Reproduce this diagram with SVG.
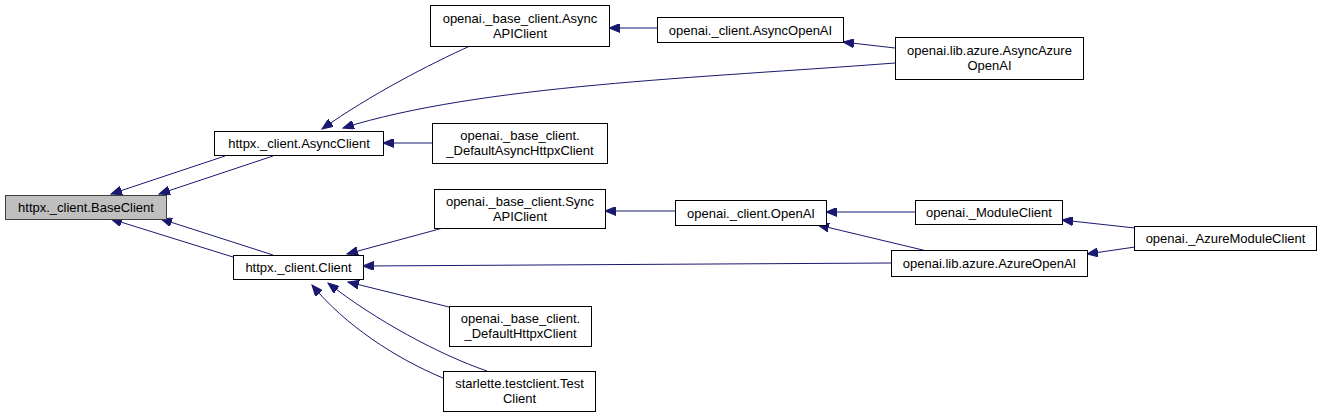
<svg xmlns="http://www.w3.org/2000/svg" width="1321" height="417" viewBox="0 0 1321 417">
<style>
.n rect{fill:#ffffff;stroke:#000000;stroke-width:1}
.n text{font-family:"Liberation Sans",Arial,sans-serif;font-size:13px;fill:#000000;text-anchor:middle}
#baseclient rect{fill:#bfbfbf;stroke:#404040}
.e path{fill:none;stroke:#191970;stroke-width:1;marker-end:url(#arr)}
</style>
<defs>
<marker id="arr" markerUnits="userSpaceOnUse" markerWidth="12" markerHeight="9" refX="11" refY="4.5" orient="auto">
<path d="M0,0 L11,4.5 L0,9 z" fill="#191970" stroke="#191970"/>
</marker>
</defs>
<rect width="1321" height="417" fill="#ffffff"/>
<g id="edges" class="e">
<path d="M225,156 L111,194"/>
<path d="M273,156 L159,194"/>
<path d="M233,257 L111,219"/>
<path d="M273,255 L161,219"/>
<path d="M470,46 C430,64 370,95 322,129"/>
<path d="M895,63 C700,78 480,85 343,128"/>
<path d="M432,143 L383,143"/>
<path d="M657,28 L609,28"/>
<path d="M895,48 L843,42"/>
<path d="M443,228 L347,254"/>
<path d="M675,211 L605,211"/>
<path d="M915,212 L826,212"/>
<path d="M927,251 L818,225"/>
<path d="M1135,228 L1062,220"/>
<path d="M1135,247 L1087,254"/>
<path d="M891,263 L363,266"/>
<path d="M449,307 L348,282"/>
<path d="M443,378 C395,358 345,325 312,285"/>
<path d="M487,371 C440,355 375,320 328,283"/>
</g>
<g id="baseclient" class="n"><rect x="5.5" y="195.5" width="161" height="24"/><text x="86" y="212">httpx._client.BaseClient</text></g>
<g id="asyncclient" class="n"><rect x="214.5" y="131.5" width="169" height="24"/><text x="299" y="148">httpx._client.AsyncClient</text></g>
<g id="client" class="n"><rect x="233.5" y="255.5" width="130" height="24"/><text x="298.5" y="272">httpx._client.Client</text></g>
<g id="asyncapiclient" class="n"><rect x="430.5" y="5.5" width="179" height="41"/><text x="520" y="22.5">openai._base_client.Async</text><text x="520" y="37.5">APIClient</text></g>
<g id="defaultasynchttpxclient" class="n"><rect x="432.5" y="123.5" width="175" height="40"/><text x="520" y="140">openai._base_client.</text><text x="520" y="155">_DefaultAsyncHttpxClient</text></g>
<g id="asyncopenai" class="n"><rect x="657.5" y="17.5" width="186" height="25"/><text x="750.5" y="34.5">openai._client.AsyncOpenAI</text></g>
<g id="asyncazureopenai" class="n"><rect x="895.5" y="37.5" width="188" height="42"/><text x="989.5" y="55">openai.lib.azure.AsyncAzure</text><text x="989.5" y="70">OpenAI</text></g>
<g id="syncapiclient" class="n"><rect x="434.5" y="189.5" width="171" height="39"/><text x="520" y="205.5">openai._base_client.Sync</text><text x="520" y="220.5">APIClient</text></g>
<g id="openai" class="n"><rect x="675.5" y="200.5" width="151" height="25"/><text x="751" y="217.5">openai._client.OpenAI</text></g>
<g id="moduleclient" class="n"><rect x="915.5" y="200.5" width="147" height="24"/><text x="989" y="217">openai._ModuleClient</text></g>
<g id="azuremoduleclient" class="n"><rect x="1134.5" y="226.5" width="182" height="24"/><text x="1225.5" y="243">openai._AzureModuleClient</text></g>
<g id="azureopenai" class="n"><rect x="891.5" y="250.5" width="196" height="26"/><text x="989.5" y="268">openai.lib.azure.AzureOpenAI</text></g>
<g id="defaulthttpxclient" class="n"><rect x="449.5" y="306.5" width="142" height="40"/><text x="520.5" y="323">openai._base_client.</text><text x="520.5" y="338">_DefaultHttpxClient</text></g>
<g id="testclient" class="n"><rect x="443.5" y="371.5" width="152" height="40"/><text x="519.5" y="388">starlette.testclient.Test</text><text x="519.5" y="403">Client</text></g>
</svg>
